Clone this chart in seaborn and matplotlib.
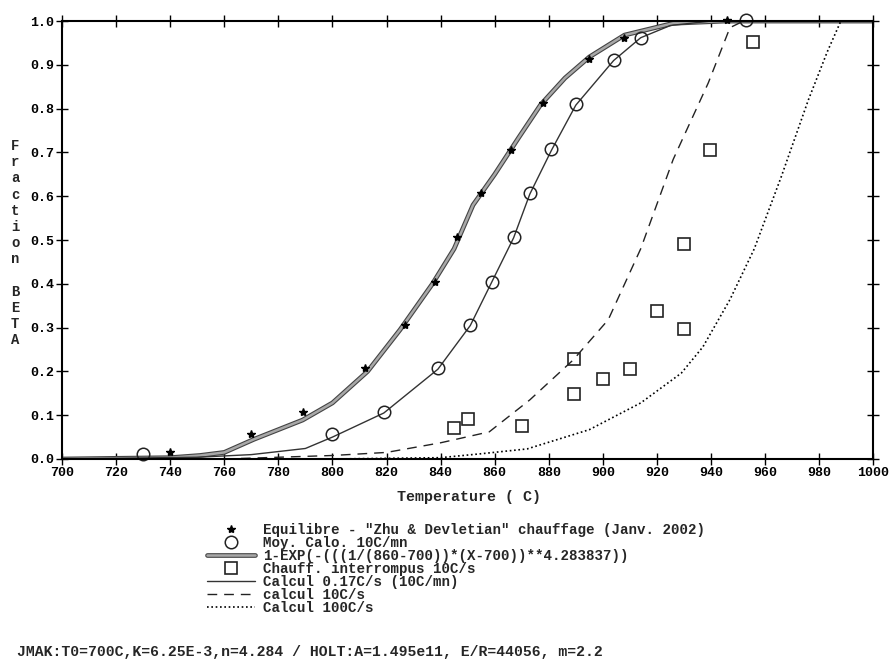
import pandas as pd
import matplotlib
matplotlib.use("Agg")
import matplotlib.pyplot as plt
import matplotlib.patheffects as pe
import seaborn as sns

# -------------------------------
# Data
# -------------------------------
equil_T = [740, 770, 789, 812, 827, 838, 846, 855, 866, 878, 895, 908, 946]
equil_f = [0.015, 0.058, 0.107, 0.208, 0.306, 0.404, 0.507, 0.608, 0.706, 0.812, 0.914, 0.962, 1.003]

calo_T = [730, 800, 819, 839, 851, 859, 867, 873, 881, 890, 904, 914, 953]
calo_f = [0.012, 0.057, 0.107, 0.207, 0.305, 0.405, 0.507, 0.608, 0.708, 0.81, 0.91, 0.962, 1.003]

interr_T = [845, 850, 870, 889.5, 889.5, 900, 910, 920, 930, 930, 939.5, 955.5]
interr_f = [0.071, 0.092, 0.076, 0.149, 0.229, 0.183, 0.206, 0.337, 0.297, 0.491, 0.705, 0.953]

jmak_T = [700, 740, 751, 760, 771, 789, 800, 813, 825, 837, 845, 852, 860, 869, 877, 886, 895, 908, 926, 945, 1000]
jmak_f = [0.0, 0.003, 0.008, 0.015, 0.045, 0.089, 0.128, 0.2, 0.295, 0.4, 0.48, 0.58, 0.65, 0.735, 0.809, 0.87, 0.918, 0.968, 0.995, 1.0, 1.0]

c017_T = [700, 750, 770, 790, 800, 819, 839, 851, 859, 867, 873, 881, 890, 904, 914, 925, 940, 1000]
c017_f = [0.0, 0.004, 0.01, 0.024, 0.05, 0.105, 0.205, 0.305, 0.405, 0.505, 0.605, 0.705, 0.808, 0.91, 0.962, 0.99, 1.0, 1.0]

c10_T = [760, 800, 820, 840, 858, 873, 889, 902, 914, 926, 939, 947, 952, 1000]
c10_f = [0.0, 0.008, 0.015, 0.037, 0.062, 0.135, 0.226, 0.318, 0.48, 0.684, 0.859, 0.985, 1.0, 1.0]

c100_T = [800, 840, 855, 872, 895, 914, 929, 937, 947, 956, 966, 976, 983, 988, 1000]
c100_f = [0.0, 0.003, 0.012, 0.023, 0.067, 0.128, 0.196, 0.256, 0.364, 0.48, 0.645, 0.82, 0.93, 1.0, 1.0]

x_ticks = [700, 720, 740, 760, 780, 800, 820, 840, 860, 880, 900, 920, 940, 960, 980, 1000]
y_ticks = [0.0, 0.1, 0.2, 0.3, 0.4, 0.5, 0.6, 0.7, 0.8, 0.9, 1.0]

labels = [
    'Equilibre - "Zhu & Devletian" chauffage (Janv. 2002)',
    "Moy. Calo. 10C/mn",
    "1-EXP(-(((1/(860-700))*(X-700))**4.283837))",
    "Chauff. interrompus 10C/s",
    "Calcul 0.17C/s (10C/mn)",
    "calcul 10C/s",
    "Calcul 100C/s",
]

sns.set_style("ticks")
plt.rcParams["font.family"] = ["Liberation Mono", "DejaVu Sans Mono"]
plt.rcParams["font.weight"] = "bold"

fig = plt.figure(figsize=(8.92, 6.59), dpi=100)
ax = fig.add_axes([0.0695, 0.3035, 0.9095, 0.6645])

# curves
sns.lineplot(x=jmak_T, y=jmak_f, ax=ax, color="#a8a8a8", lw=1.8, sort=False, estimator=None,
             label=labels[2],
             path_effects=[pe.Stroke(linewidth=3.4, foreground="#444444"), pe.Normal()])
sns.lineplot(x=c017_T, y=c017_f, ax=ax, color="#333333", lw=1.0, sort=False, estimator=None,
             label=labels[4])
sns.lineplot(x=c10_T, y=c10_f, ax=ax, color="#222222", lw=1.0, sort=False, estimator=None,
             label=labels[5], linestyle=(0, (7, 5)))
sns.lineplot(x=c100_T, y=c100_f, ax=ax, color="black", lw=1.2, sort=False, estimator=None,
             label=labels[6], linestyle=(0, (1, 1.6)))

# points
ax.plot(equil_T, equil_f, ls="none", marker="*", ms=6, color="black", label=labels[0], clip_on=False)
ax.plot(calo_T, calo_f, ls="none", marker="o", ms=9, mfc="none", mec="#222222", mew=1.1,
        label=labels[1], clip_on=False)
ax.plot(interr_T, interr_f, ls="none", marker="s", ms=9, mfc="none", mec="#222222", mew=1.2,
        label=labels[3], clip_on=False)

ax.set_xlim(700, 1000)
ax.set_ylim(0, 1.0)
ax.set_xticks(x_ticks)
ax.set_yticks(y_ticks)
ax.set_xticklabels([str(t) for t in x_ticks])
ax.set_yticklabels([f"{t:.1f}" for t in y_ticks])
ax.tick_params(direction="inout", length=9, width=1.0, labelsize=9.5, colors="black",
               top=True, right=True, pad=1)
for s in ax.spines.values():
    s.set_visible(True)
    s.set_linewidth(1.5)
    s.set_color("black")
ax.set_xlabel("")
ax.set_ylabel("")

# vertical stacked y label
fig.text(0.017, 0.631, "F\nr\na\nc\nt\ni\no\nn\n\nB\nE\nT\nA", ha="center", va="center",
         fontsize=10, linespacing=1.2)
fig.text(0.526, 0.246, "Temperature ( C)", ha="center", va="center", fontsize=10.8)

# legend below the plot
handles, labs = ax.get_legend_handles_labels()
order = [labels.index(l) for l in labs]
pairs = sorted(zip(order, handles, labs))
leg = fig.legend([p[1] for p in pairs], [p[2] for p in pairs],
                 loc="upper left", bbox_to_anchor=(0.232, 0.206), frameon=False,
                 fontsize=10.2, handlelength=3.4, handletextpad=0.55, labelspacing=-0.07,
                 borderpad=0, borderaxespad=0)
if ax.get_legend():
    ax.get_legend().remove()

fig.text(0.019, 0.011, "JMAK:T0=700C,K=6.25E-3,n=4.284 / HOLT:A=1.495e11, E/R=44056, m=2.2",
         ha="left", va="center", fontsize=10.6)

fig.savefig("out.png", dpi=100, facecolor="white")
